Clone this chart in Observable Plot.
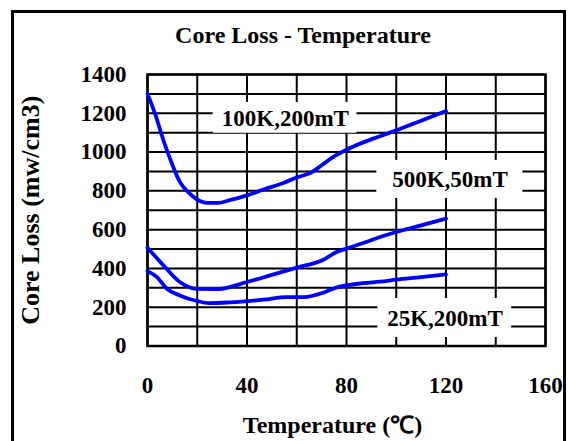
<!DOCTYPE html>
<html>
<head>
<meta charset="utf-8">
<script src="https://cdn.jsdelivr.net/npm/d3@7"></script>
<script src="https://cdn.jsdelivr.net/npm/@observablehq/plot@0.6"></script>
<style>
  html, body { margin: 0; padding: 0; background: #fff; overflow: hidden; }
  #wrap { position: relative; width: 568px; height: 441px; overflow: hidden; }
  #border { position: absolute; left: 11px; top: 10px; width: 549px; height: 500px; border: 3px solid #000; }
  #title { position: absolute; left: 0; top: 0; width: 606px; height: 60px; line-height: 70px; text-align: center;
           font-family: "Liberation Serif", "Times New Roman", serif; font-weight: bold; font-size: 24px; color: #000; }
  #chart { position: absolute; left: 0; top: 60px; }
</style>
</head>
<body>
<div id="wrap">
  <div id="border"></div>
  <div id="title">Core Loss - Temperature</div>
  <div id="chart"></div>
</div>
<script>
// ---- data ----
const titleText = "Core Loss - Temperature";
const xLabel = "Temperature (℃)";
const yLabel = "Core Loss (mw/cm3)";

const xTicks = [0, 40, 80, 120, 160];
const yTicks = [0, 200, 400, 600, 800, 1000, 1200, 1400];
const xGrid = [0, 20, 40, 60, 80, 100, 120, 140, 160];
const yGrid = [0, 100, 200, 300, 400, 500, 600, 700, 800, 900, 1000, 1100, 1200, 1300, 1400];

const seriesNames = ["100K,200mT", "500K,50mT", "25K,200mT"];

const temp100K = [0, 3, 6.4, 9.8, 13, 17, 21, 24, 28.5, 33, 40, 46.6, 54.6, 60, 66, 70, 74.7, 80, 86.7, 93.5, 99.5, 110, 120];
const loss100K = [1300, 1199, 1061, 941, 846, 786, 748, 738, 738, 752, 777, 807, 841, 869, 896, 932, 975, 1012, 1050, 1082, 1110, 1162, 1212];

const temp500K = [0, 6.4, 13, 19.8, 28.5, 40, 49.3, 60, 70.7, 76, 80, 86.7, 93.5, 100, 110, 120];
const loss500K = [507, 416, 330, 295, 294, 330, 364, 404, 445, 485, 502, 531, 562, 588, 622, 657];

const temp25K = [0, 3.8, 7.8, 13, 19.8, 25, 33, 46.6, 56, 62.7, 70.7, 75.4, 86.7, 93.5, 100, 110, 120];
const loss25K = [386, 355, 295, 261, 232, 221, 225, 239, 252, 252, 275, 299, 324, 332, 342, 355, 369];

// label annotations (data units): box extent and text anchor
const labelText = ["100K,200mT", "500K,50mT", "25K,200mT"];
const labelBoxX1 = [26.4, 92.2, 92.6];
const labelBoxX2 = [84.2, 150.9, 146.4];
const labelBoxY1 = [1097, 761, 44];
const labelBoxY2 = [1256, 957, 245];
const labelX = [55.4, 121.6, 119.6];
const labelY = [1172, 858, 143];

// ---- build tables ----
const lines = [
  ...temp100K.map((t, i) => ({series: seriesNames[0], temp: t, loss: loss100K[i]})),
  ...temp500K.map((t, i) => ({series: seriesNames[1], temp: t, loss: loss500K[i]})),
  ...temp25K.map((t, i) => ({series: seriesNames[2], temp: t, loss: loss25K[i]}))
];
const labels = labelText.map((s, i) => ({
  text: s, x1: labelBoxX1[i], x2: labelBoxX2[i], y1: labelBoxY1[i], y2: labelBoxY2[i], x: labelX[i], y: labelY[i]
}));

document.getElementById("title").textContent = titleText;

const chart = Plot.plot({
  width: 568,
  height: 381,
  marginLeft: 147,
  marginRight: 23,
  marginTop: 14,
  marginBottom: 95.5,
  style: {fontFamily: "'Liberation Serif', 'Times New Roman', serif", fontWeight: "bold", fontSize: "23px", color: "#000", background: "transparent", overflow: "visible"},
  x: {domain: [0, 160]},
  y: {domain: [0, 1400]},
  marks: [
    Plot.gridX(xGrid, {stroke: "#000", strokeOpacity: 1, strokeWidth: 2}),
    Plot.gridY(yGrid, {stroke: "#000", strokeOpacity: 1, strokeWidth: 2}),
    Plot.rect(labels, {x1: "x1", x2: "x2", y1: "y1", y2: "y2", fill: "#fff"}),
    Plot.frame({stroke: "#000", strokeWidth: 2.5}),
    Plot.line(lines, {x: "temp", y: "loss", z: "series", stroke: "#0000ff", strokeWidth: 3.8, curve: "monotone-x"}),
    Plot.text(labels, {x: "x", y: "y", text: "text", fill: "#000", fontSize: 23, fontWeight: "bold"}),
    Plot.axisX(xTicks, {tickSize: 0, tickPadding: 31, label: null, tickFormat: d => String(d), fontSize: 23, fontWeight: "bold"}),
    Plot.axisY(yTicks, {tickSize: 0, tickPadding: 21, label: null, tickFormat: d => String(d), fontSize: 23, fontWeight: "bold"}),
    Plot.text([xLabel], {frameAnchor: "bottom", textAnchor: "middle", lineAnchor: "middle", dy: 79, dx: -14, fontSize: 24, fontWeight: "bold"}),
    Plot.text([yLabel], {frameAnchor: "left", textAnchor: "middle", lineAnchor: "middle", rotate: -90, dx: -117, fontSize: 26, fontWeight: "bold"})
  ]
});
document.getElementById("chart").appendChild(chart);
</script>
</body>
</html>
